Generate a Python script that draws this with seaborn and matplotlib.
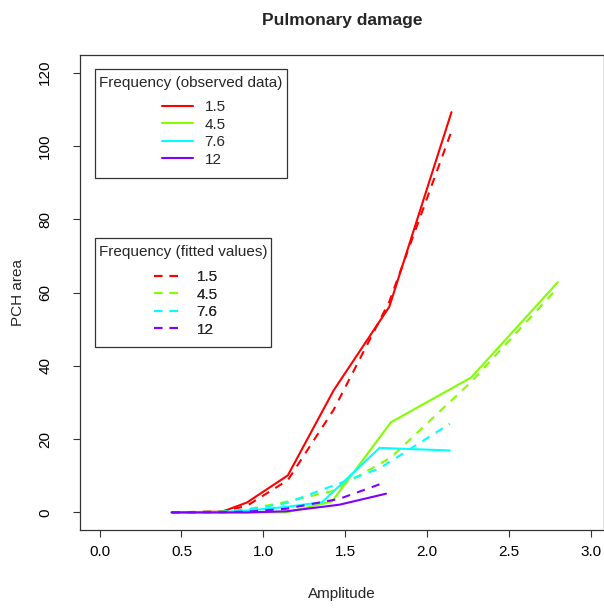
import matplotlib
matplotlib.use("Agg")
import matplotlib.pyplot as plt
import seaborn as sns
from matplotlib.lines import Line2D
from matplotlib.patches import Rectangle

# ---- data ----
freq_labels = ["1.5", "4.5", "7.6", "12"]
colors = ["#FF0000", "#80FF00", "#00FFFF", "#8000FF"]

amp_15 = [0.44, 0.75, 0.90, 1.15, 1.43, 1.77, 2.15]
obs_15 = [0.0, 0.2, 2.7, 10.1, 33.3, 56.1, 109.2]
fit_15 = [0.0, 0.3, 1.8, 8.8, 28.0, 57.5, 104.0]

amp_45 = [0.44, 0.75, 0.90, 1.14, 1.42, 1.78, 2.27, 2.80]
obs_45 = [0.0, 0.0, 0.0, 0.0, 3.0, 24.6, 36.8, 62.8]
fit_45 = [0.0, 0.2, 0.8, 2.9, 5.8, 15.0, 35.6, 61.3]

amp_76 = [0.44, 0.75, 0.90, 1.14, 1.36, 1.71, 2.14]
obs_76 = [0.0, 0.1, 0.5, 1.5, 2.8, 17.6, 16.9]
fit_76 = [0.0, 0.2, 0.8, 2.5, 6.2, 12.0, 24.2]

amp_12 = [0.44, 0.75, 0.90, 1.14, 1.465, 1.75]
obs_12 = [0.0, 0.0, 0.0, 0.3, 2.1, 5.1]
fit_12 = [0.0, 0.05, 0.2, 1.0, 3.7, 8.3]

amps = [amp_15, amp_45, amp_76, amp_12]
observed = [obs_15, obs_45, obs_76, obs_12]
fitted = [fit_15, fit_45, fit_76, fit_12]

x_ticks = [0.0, 0.5, 1.0, 1.5, 2.0, 2.5, 3.0]
y_ticks = [0, 20, 40, 60, 80, 100, 120]

# ---- style ----
sns.set_style("ticks")
plt.rcParams["font.family"] = ["Liberation Sans", "DejaVu Sans"]
FS = 11
plt.rcParams["font.size"] = FS

W, H = 604, 608
fig = plt.figure(figsize=(W / 100, H / 100), dpi=100)
AX_L, AX_R, AX_T, AX_B = 80, 604, 55, 530
ax = fig.add_axes([AX_L / W, 1 - AX_B / H, (AX_R - AX_L) / W, (AX_B - AX_T) / H])


def px2ax(x, y):
    return (x - AX_L) / (AX_R - AX_L), (AX_B - y) / (AX_B - AX_T)


lw = 1.5
dash = (0, (4, 3.5))
for a, o, f, c in zip(amps, observed, fitted, colors):
    sns.lineplot(x=a, y=o, color=c, lw=lw, ax=ax, sort=False, legend=False,
                 estimator=None)
    sns.lineplot(x=a, y=f, color=c, lw=lw, ax=ax, sort=False, legend=False,
                 estimator=None, linestyle=dash)

ax.set_xlim(-0.12, (604 - 100.7) / 163.3)
ax.set_ylim(-4.8, 124.8)
ax.set_xticks(x_ticks)
ax.set_xticklabels([f"{v:.1f}" for v in x_ticks])
ax.set_yticks(y_ticks)
ax.set_yticklabels([str(v) for v in y_ticks], rotation=90, va="center")
ax.tick_params(direction="out", length=5, width=0.8, colors="#333333",
               labelcolor="black", labelsize=FS)
ax.tick_params(axis="x", pad=6)
ax.tick_params(axis="y", pad=15)
for s in ax.spines.values():
    s.set_visible(True)
    s.set_color("#333333")
    s.set_linewidth(0.9)

ax.set_xlabel("Amplitude", fontsize=FS)
ax.set_ylabel("PCH area", fontsize=FS)
ax.xaxis.set_label_coords(*px2ax(342, 587))
ax.yaxis.set_label_coords(*px2ax(25, 292))
fig.suptitle("Pulmonary damage", fontsize=12.5, fontweight="bold",
             x=342 / W, y=1 - 20 / H, va="center")

h_obs = [Line2D([], [], color=c, lw=lw) for c in colors]
h_fit = [Line2D([], [], color=c, lw=lw, linestyle=dash) for c in colors]

boxes = [
    # (handles, title, box l, t, r, b, title y, handle x, entries centre y)
    (h_obs, "Frequency (observed data)", 95, 69, 287, 178, 82.7, 162, 133.4),
    (h_fit, "Frequency (fitted values)", 95, 238, 271, 347, 251.7, 154, 303.3),
]
for hs, title, l, t, r, b, ty, hx, ey in boxes:
    x0, y0 = px2ax(l, b)
    x1, y1 = px2ax(r, t)
    ax.add_patch(Rectangle((x0, y0), x1 - x0, y1 - y0, transform=ax.transAxes,
                           facecolor="white", edgecolor="#333333", lw=0.9,
                           zorder=5))
    tx, tyy = px2ax((l + r) / 2, ty)
    ax.text(tx, tyy, title, transform=ax.transAxes, ha="center", va="center",
            fontsize=FS, zorder=6)
    leg = ax.legend(hs, freq_labels, frameon=False, fontsize=FS,
                    labelspacing=0.23, handlelength=2.0, handletextpad=0.78,
                    borderpad=0.0, borderaxespad=0.0, loc="center left",
                    bbox_to_anchor=px2ax(hx, ey))
    leg.set_zorder(7)
    ax.add_artist(leg)

fig.savefig("out.png", dpi=100)
